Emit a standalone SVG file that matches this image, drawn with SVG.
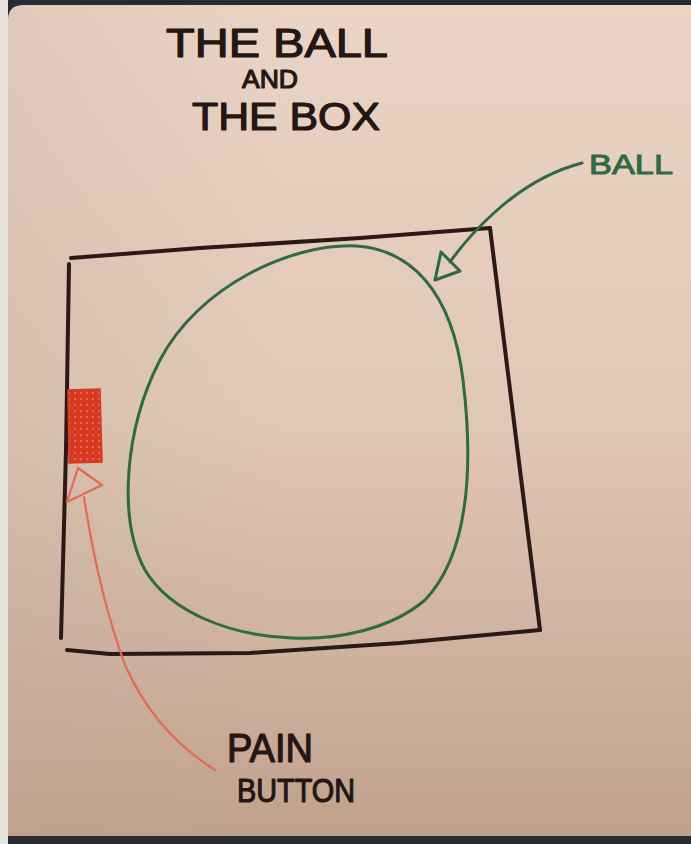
<svg xmlns="http://www.w3.org/2000/svg" width="691" height="844" viewBox="0 0 691 844">
<defs>
<linearGradient id="paper" x1="0" y1="0" x2="0" y2="1">
<stop offset="0" stop-color="#ebd4c6"/>
<stop offset="0.5" stop-color="#e1c7b6"/>
<stop offset="1" stop-color="#c1a18c"/>
</linearGradient>
<linearGradient id="shade" x1="0" y1="0" x2="1" y2="0">
<stop offset="0" stop-color="#b8a898" stop-opacity="0.25"/>
<stop offset="0.4" stop-color="#b8a898" stop-opacity="0"/>
</linearGradient>
<pattern id="dots" width="6" height="6" patternUnits="userSpaceOnUse">
<rect width="6" height="6" fill="#d73a22"/>
<circle cx="3" cy="3" r="0.9" fill="#f07a60"/>
</pattern>
</defs>
<style>
.ink{fill:none;stroke:#2a1915;stroke-width:4;stroke-linecap:round;stroke-linejoin:round}
.green{fill:none;stroke:#2d6b43;stroke-width:3;stroke-linecap:round;stroke-linejoin:round}
.red{fill:none;stroke:#e26a57;stroke-width:2.2;stroke-linecap:round;stroke-linejoin:round}
.hand{font-family:"Liberation Sans","DejaVu Sans",sans-serif;fill:#231613;stroke:#231613;stroke-width:1.2;stroke-linejoin:round}
.gtext{font-family:"Liberation Sans","DejaVu Sans",sans-serif;fill:#2d6b43;stroke:#2d6b43;stroke-width:1;stroke-linejoin:round}
</style>
<rect width="691" height="844" fill="#e7e2da"/>
<rect x="8" y="0" width="683" height="844" fill="#2a2b30"/>
<path d="M8,20 Q8,5 24,5 L691,5 L691,836 L8,836 Z" fill="url(#paper)"/>
<path d="M8,20 Q8,5 24,5 L691,5 L691,836 L8,836 Z" fill="url(#shade)"/>

<g id="title">
<text class="hand" x="166" y="57" font-size="40" textLength="222" lengthAdjust="spacingAndGlyphs">THE BALL</text>
<text class="hand" x="242" y="88" font-size="26" textLength="56" lengthAdjust="spacingAndGlyphs">AND</text>
<text class="hand" x="192" y="130" font-size="38" textLength="188" lengthAdjust="spacingAndGlyphs">THE BOX</text>
</g>

<g id="box">
<path class="ink" d="M71,258 L200,248 L360,238 L490,228"/>
<path class="ink" d="M69,264 L66,450 L61,638"/>
<path class="ink" d="M490,228 L515,430 L540,630"/>
<path class="ink" d="M67,650 L110,654 L250,653 L400,643 L540,630"/>
</g>

<g id="ball">
<path class="green" d="M357,246 C410,250 452,290 463,380 C474,470 468,555 425,600 C390,630 335,640 293,638 C230,636 170,612 145,570 C118,520 124,430 160,360 C198,287 290,243 357,246 Z"/>
</g>

<g id="pain-button">
<path d="M68,390 L100,389 L102,462 L69,463 Z" fill="url(#dots)" stroke="#d33a22" stroke-width="1.5"/>
</g>

<g id="label-ball">
<text class="gtext" x="589" y="174" font-size="28" textLength="84" lengthAdjust="spacingAndGlyphs">BALL</text>
</g>

<g id="label-pain-button">
<text class="hand" x="227" y="762" font-size="40" textLength="86" lengthAdjust="spacingAndGlyphs">PAIN</text>
<text class="hand" x="237" y="802" font-size="34" textLength="118" lengthAdjust="spacingAndGlyphs">BUTTON</text>
</g>

<g id="connectors">
<path class="green" d="M582,163 C555,170 525,185 495,212 C475,230 462,245 450,262"/>
<path class="green" d="M435,280 L441,252 L460,271 Z" fill="none"/>
<path class="red" d="M215,770 C175,745 145,710 125,665 C105,610 92,550 84,497"/>
<path class="red" d="M78,468 L102,485 L67,502 Z" fill="#efb3a6" fill-opacity="0.4"/>
</g>
</svg>
